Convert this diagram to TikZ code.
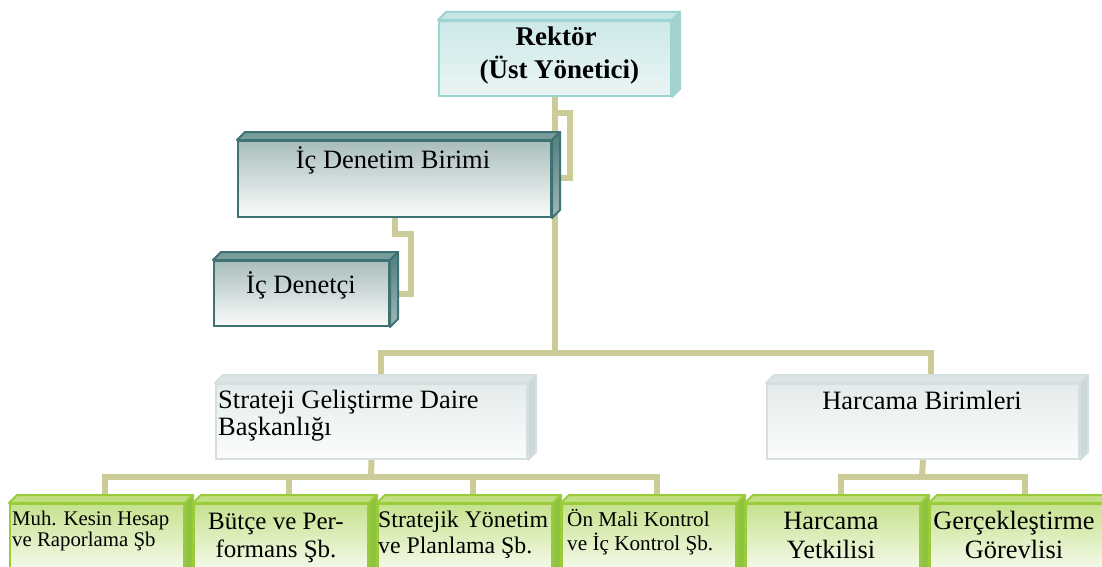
\documentclass[tikz,border=0pt]{standalone}
\usepackage{fontspec}
\setmainfont{Liberation Serif}
\usetikzlibrary{calc}
\definecolor{conncol}{HTML}{CCCC99}
\definecolor{rekline}{HTML}{9CD3D3}
\definecolor{rektop}{HTML}{CDE8E8}
\definecolor{rekbot}{HTML}{EAF5F5}
\definecolor{rekface}{HTML}{C6E5E5}
\definecolor{rekside}{HTML}{A8D0D0}
\definecolor{denline}{HTML}{3F7373}
\definecolor{dentop}{HTML}{A9BDBD}
\definecolor{denbot}{HTML}{FAFBFB}
\definecolor{denface}{HTML}{769C9C}
\definecolor{densidet}{HTML}{4F7E7E}
\definecolor{densideb}{HTML}{A2B8B8}
\definecolor{grline}{HTML}{D5DFDF}
\definecolor{grtop}{HTML}{E4EBEB}
\definecolor{grbot}{HTML}{FCFDFD}
\definecolor{grface}{HTML}{DCE5E5}
\definecolor{grside}{HTML}{CDD8D8}
\definecolor{gnline}{HTML}{9ACB3A}
\definecolor{gntop}{HTML}{C6E28E}
\definecolor{gnface}{HTML}{C0DF80}
\definecolor{gnside}{HTML}{8EC440}
\newcommand\cubefaces[5]{%
  \draw[line width=2pt, line join=round, draw=#4, fill=#2] (#1.north west) -- ++(8,-8) -- ($(#1.north east)+(8,-8)$) -- (#1.north east) -- cycle;
  \draw[line width=2pt, line join=round, draw=#4, top color=#3, bottom color=#5] (#1.north east) -- ++(8,-8) -- ($(#1.south east)+(8,-8)$) -- (#1.south east) -- cycle;
}
\newcommand\fsz[2]{\fontsize{#1}{#2}\selectfont}
\tikzset{
  conn/.style={draw=conncol, line width=6pt, line join=miter},
  cube/.style={anchor=north west, inner sep=0pt, line width=2pt, rectangle},
  rekbox/.style={cube, draw=rekline, top color=rektop, bottom color=rekbot},
  denbox/.style={cube, draw=denline, top color=dentop, bottom color=denbot},
  grbox/.style={cube, draw=grline, top color=grtop, bottom color=grbot, minimum height=75pt},
  gnbox/.style={cube, draw=gnline, top color=gntop, bottom color=white, minimum width=174pt, minimum height=80pt},
  txt/.style={inner sep=0pt, text=black},
  big/.style={font=\fsz{26.5}{27}},
}
\begin{document}
\lineskiplimit=-50pt\relax
\begin{tikzpicture}[x=1pt, y=-1pt]
\useasboundingbox (0,0) rectangle (1102,567);
\fill[white] (0,0) rectangle (1102,567);
\clip (0,0) rectangle (1102,567);

% box geometry (front faces) for the connectors
\path node[cube, minimum width=232pt, minimum height=75pt] (rek) at (438,20) {};
\path node[cube, minimum width=313pt, minimum height=76pt] (idb) at (237,140) {};
\path node[cube, minimum width=175pt, minimum height=65pt] (idc) at (213,260) {};
\path node[cube, minimum width=311pt, minimum height=75pt] (sg) at (215,383) {};
\path node[cube, minimum width=312pt, minimum height=75pt] (hb) at (766,383) {};
\foreach \i/\x in {1/9,2/193,3/377,4/561,5/745,6/929}{
  \path node[cube, minimum width=174pt, minimum height=80pt] (g\i) at (\x,503) {};
}

% connectors
\coordinate (j1) at (555,353);
\coordinate (a1) at (555,113);
\coordinate (a2) at (570,178);
\coordinate (b1) at (411,234);
\coordinate (b2) at (411,294);
\coordinate (j2) at (371,477);
\coordinate (j3) at (922,477);
\coordinate (sgt) at ([xshift=9pt]sg.north);
\coordinate (hbt) at ([xshift=8pt]hb.north);
\foreach \i in {1,...,6}{\coordinate (g\i t) at ([xshift=8pt]g\i.north);}

\draw[conn] (rek.south) -- (j1);
\draw[conn] (a1) -| (a2) -- (a2 -| idb.east);
\draw[conn] (idb.south) |- (b1) -- (b2) -- (b2 -| idc.east);
\draw[conn] (sgt) |- (j1) -| (hbt);
\draw[conn] (sg.south) -- (j2);
\draw[conn] (g1t) |- (j2) -| (g4t);
\draw[conn] (g2t) -- (g2t |- j2);
\draw[conn] (g3t) -- (g3t |- j2);
\draw[conn] (hb.south) -- (j3);
\draw[conn] (g5t) |- (j3) -| (g6t);

% boxes drawn
\node[rekbox, minimum width=232pt, minimum height=75pt] at (438,20) {};
\cubefaces{rek}{rekface}{rekside}{rekline}{rekside}
\node[denbox, minimum width=313pt, minimum height=76pt] at (237,140) {};
\cubefaces{idb}{denface}{densidet}{denline}{densideb}
\node[denbox, minimum width=175pt, minimum height=65pt] at (213,260) {};
\cubefaces{idc}{denface}{densidet}{denline}{densideb}
\node[grbox, minimum width=311pt] at (215,383) {};
\cubefaces{sg}{grface}{grside}{grline}{grside}
\node[grbox, minimum width=312pt] at (766,383) {};
\cubefaces{hb}{grface}{grside}{grline}{grside}
\foreach \i/\x in {1/9,2/193,3/377,4/561,5/745,6/929}{
  \node[gnbox] at (\x,503) {};
  \cubefaces{g\i}{gnface}{gnside}{gnline}{gnside}
}

% texts
\node[txt, font=\fsz{27}{33}\bfseries, align=center, anchor=north] (trek) at (556,18)
  {\rule{0pt}{27pt}Rektör\\\hspace*{0.25em}(Üst Yönetici)};
\node[txt, big, anchor=base] (tidb) at (393,168) {İç Denetim Birimi};
\node[txt, big, anchor=base] (tidc) at (301,293) {İç Denetçi};
\node[txt, big, align=left, anchor=north west] (tsg) at (218,381.5)
  {\rule{0pt}{26.5pt}Strateji Geliştirme Daire\\Başkanlığı};
\node[txt, big, anchor=base] (thb) at (922,409) {Harcama Birimleri};
\node[txt, font=\fsz{20.8}{21}, align=left, anchor=north west] (tg1) at (12,504.2)
  {\rule{0pt}{20.8pt}Muh. Kesin Hesap\\ve Raporlama Şb};
\node[txt, font=\fsz{25}{28}, align=center, anchor=north] (tg2) at (276,504)
  {\rule{0pt}{25pt}Bütçe ve Per-\\formans Şb.};
\node[txt, font=\fsz{23.8}{26}, align=left, anchor=north west] (tg3) at (378,503.2)
  {\rule{0pt}{23.8pt}Stratejik Yönetim\\ve Planlama Şb.};
\node[txt, font=\fsz{21.2}{24}, align=left, anchor=north west] (tg4) at (567,504.8)
  {\rule{0pt}{21.2pt}Ön Mali Kontrol\\ve İç Kontrol Şb.};
\node[txt, font=\fsz{26.4}{29}, align=center, anchor=north] (tg5) at (831,502.6)
  {\rule{0pt}{26.4pt}Harcama\\Yetkilisi};
\node[txt, font=\fsz{26.4}{29}, align=center, anchor=north] (tg6) at (1014,502.6)
  {\rule{0pt}{26.4pt}Gerçekleştirme\\Görevlisi};
\end{tikzpicture}
\end{document}
